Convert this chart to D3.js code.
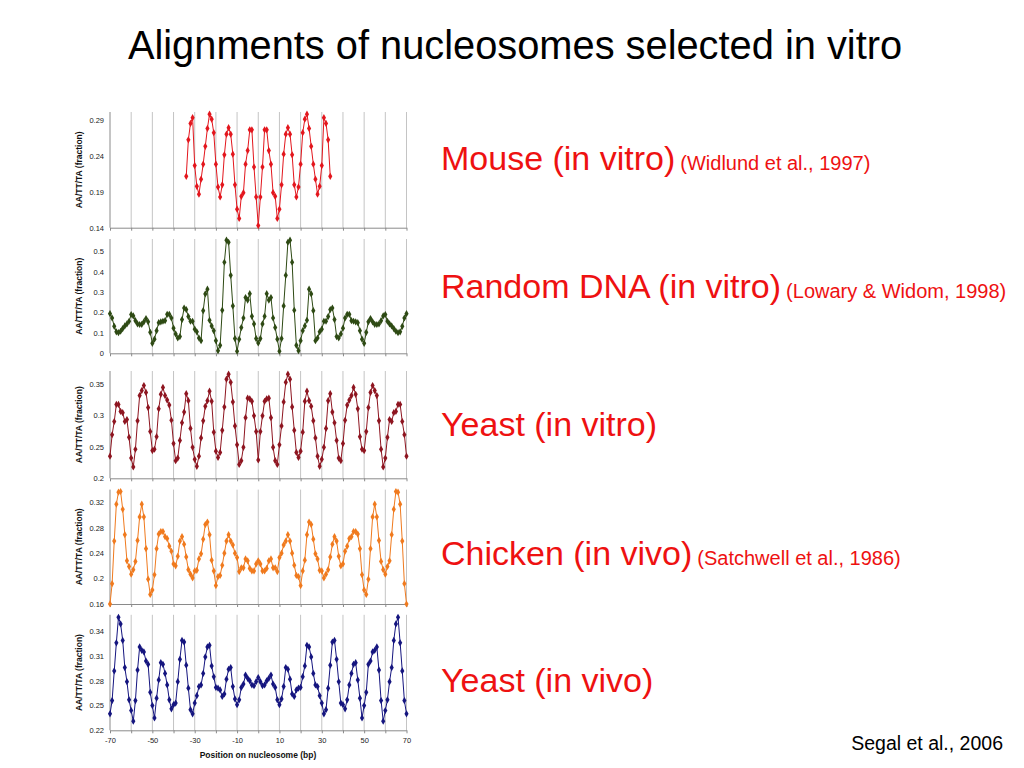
<!DOCTYPE html>
<html><head><meta charset="utf-8">
<script src="https://cdn.jsdelivr.net/npm/d3@7"></script>
<style>body{margin:0;background:#fff} svg{display:block;font-family:"Liberation Sans",Arial,sans-serif}</style>
</head><body><svg id="c" width="1024" height="768"></svg>
<script>
// ---------- DATA ----------
const titleText = "Alignments of nucleosomes selected in vitro";
const yLabel = "AA/TT/TA (fraction)";
const xLabel = "Position on nucleosome (bp)";
const xTickLabels = [-70, -50, -30, -10, 10, 30, 50, 70];
const xGrid = [-60, -50, -40, -30, -20, -10, 0, 10, 20, 30, 40, 50, 60, 70];
const xAxisTicks = [-70, -60, -50, -40, -30, -20, -10, 0, 10, 20, 30, 40, 50, 60, 70];

const mouseStart = -34;
const mouseValues = [0.212,0.263,0.286,0.294,0.227,0.198,0.187,0.208,0.229,0.254,0.279,0.299,0.292,0.273,0.229,0.197,0.183,0.200,0.242,0.271,0.280,0.271,0.243,0.200,0.166,0.153,0.184,0.189,0.229,0.248,0.277,0.277,0.225,0.183,0.143,
0.183,0.225,0.277,0.277,0.248,0.229,0.189,0.184,0.153,0.166,0.200,0.243,0.271,0.280,0.271,0.242,0.200,0.183,0.197,0.229,0.273,0.292,0.299,0.279,0.254,0.229,0.208,0.187,0.198,0.227,0.294,0.286,0.263,0.212];
const mouseTicks = [0.14, 0.19, 0.24, 0.29];

const randomStart = -70;
const randomValues = [0.194,0.173,0.132,0.105,0.101,0.108,0.121,0.134,0.144,0.157,
0.190,0.183,0.160,0.144,0.141,0.142,0.154,0.170,0.154,0.103,
0.049,0.069,0.111,0.150,0.154,0.157,0.160,0.191,0.191,0.173,
0.123,0.095,0.075,0.082,0.165,0.222,0.214,0.180,0.157,0.157,
0.118,0.105,0.075,0.062,0.209,0.291,0.314,0.162,0.134,0.111,
0.062,0.013,0.039,0.211,0.446,0.554,0.544,0.382,0.232,0.072,
0.010,0.069,0.126,0.173,0.273,0.261,0.292,0.181,0.144,0.072,
0.051,
0.072,0.144,0.181,0.292,0.261,0.273,0.173,0.126,0.069,0.010,
0.072,0.232,0.382,0.544,0.554,0.446,0.211,0.039,0.013,0.062,
0.111,0.134,0.162,0.314,0.291,0.209,0.062,0.075,0.105,0.118,
0.157,0.157,0.180,0.214,0.222,0.165,0.082,0.075,0.095,0.123,
0.173,0.191,0.191,0.160,0.157,0.154,0.150,0.111,0.069,0.049,
0.103,0.154,0.170,0.154,0.142,0.141,0.144,0.160,0.183,0.190,
0.157,0.144,0.134,0.121,0.108,0.101,0.105,0.132,0.173,0.194];
const randomTicks = [0, 0.1, 0.2, 0.3, 0.4, 0.5];

const yeastVitroStart = -70;
const yeastVitroValues = [0.235,0.269,0.290,0.317,0.317,0.306,0.304,0.290,0.293,0.265,
0.232,0.218,0.246,0.291,0.331,0.339,0.347,0.336,0.312,0.274,
0.244,0.246,0.266,0.310,0.333,0.344,0.331,0.324,0.316,0.292,
0.255,0.228,0.232,0.260,0.288,0.305,0.334,0.323,0.279,0.249,
0.230,0.219,0.235,0.264,0.291,0.314,0.323,0.338,0.322,0.273,
0.243,0.233,0.241,0.276,0.313,0.357,0.365,0.352,0.321,0.283,
0.253,0.222,0.228,0.249,0.296,0.327,0.326,0.322,0.299,0.274,
0.229,
0.274,0.299,0.322,0.326,0.327,0.296,0.249,0.228,0.222,0.253,
0.283,0.321,0.352,0.365,0.357,0.313,0.276,0.241,0.233,0.243,
0.273,0.322,0.338,0.323,0.314,0.291,0.264,0.235,0.219,0.230,
0.249,0.279,0.323,0.334,0.305,0.288,0.260,0.232,0.228,0.255,
0.292,0.316,0.324,0.331,0.344,0.333,0.310,0.266,0.246,0.244,
0.274,0.312,0.336,0.347,0.339,0.331,0.291,0.246,0.218,0.232,
0.265,0.293,0.290,0.304,0.306,0.317,0.317,0.290,0.269,0.235];
const yeastVitroTicks = [0.2, 0.25, 0.3, 0.35];

const chickenStart = -70;
const chickenValues = [0.160,0.192,0.259,0.317,0.336,0.337,0.309,0.269,0.228,0.219,
0.207,0.214,0.227,0.260,0.297,0.317,0.297,0.247,0.199,0.175,
0.182,0.206,0.247,0.270,0.274,0.274,0.266,0.263,0.251,0.243,
0.223,0.220,0.235,0.259,0.266,0.254,0.234,0.214,0.207,0.201,
0.212,0.213,0.231,0.239,0.262,0.285,0.289,0.269,0.229,0.212,
0.189,0.203,0.205,0.221,0.240,0.259,0.269,0.259,0.253,0.240,
0.233,0.211,0.217,0.217,0.231,0.228,0.216,0.212,0.212,0.223,
0.228,
0.223,0.212,0.212,0.216,0.228,0.231,0.217,0.217,0.211,0.233,
0.240,0.253,0.259,0.269,0.259,0.240,0.221,0.205,0.203,0.189,
0.212,0.229,0.269,0.289,0.285,0.262,0.239,0.231,0.213,0.212,
0.201,0.207,0.214,0.234,0.254,0.266,0.259,0.235,0.220,0.223,
0.243,0.251,0.263,0.266,0.274,0.274,0.270,0.247,0.206,0.182,
0.175,0.199,0.247,0.297,0.317,0.297,0.260,0.227,0.214,0.207,
0.219,0.228,0.269,0.309,0.337,0.336,0.317,0.259,0.192,0.160];
const chickenTicks = [0.16, 0.2, 0.24, 0.28, 0.32];

const yeastVivoStart = -70;
const yeastVivoValues = [0.240,0.256,0.292,0.326,0.357,0.349,0.329,0.296,0.279,0.257,
0.244,0.231,0.256,0.293,0.321,0.317,0.315,0.304,0.300,0.266,
0.250,0.235,0.259,0.281,0.302,0.300,0.289,0.275,0.257,0.246,
0.251,0.253,0.279,0.306,0.329,0.327,0.299,0.271,0.245,0.240,
0.253,0.262,0.273,0.275,0.289,0.309,0.321,0.323,0.298,0.285,
0.272,0.271,0.269,0.261,0.264,0.282,0.294,0.296,0.273,0.258,
0.251,0.257,0.272,0.276,0.287,0.283,0.280,0.275,0.274,0.279,
0.284,
0.279,0.274,0.275,0.280,0.283,0.287,0.276,0.272,0.257,0.251,
0.258,0.273,0.296,0.294,0.282,0.264,0.261,0.269,0.271,0.272,
0.285,0.298,0.323,0.321,0.309,0.289,0.275,0.273,0.262,0.253,
0.240,0.245,0.271,0.299,0.327,0.329,0.306,0.279,0.253,0.251,
0.246,0.257,0.275,0.289,0.300,0.302,0.281,0.259,0.235,0.250,
0.266,0.300,0.304,0.315,0.317,0.321,0.293,0.256,0.231,0.244,
0.257,0.279,0.296,0.329,0.349,0.357,0.326,0.292,0.256,0.240];
const yeastVivoTicks = [0.22, 0.25, 0.28, 0.31, 0.34];

const sideLabels = ["Mouse (in vitro)", "Random DNA (in vitro)", "Yeast (in vitro)", "Chicken (in vivo)", "Yeast (in vivo)"];
const sideRefs = ["(Widlund et al., 1997)", "(Lowary & Widom, 1998)", "", "(Satchwell et al., 1986)", ""];
const citation = "Segal et al., 2006";

// ---------- LAYOUT ----------
const svg = d3.select("#c");
const x = d3.scaleLinear().domain([-70, 70]).range([110, 406.5]);

const panels = [
  {values: mouseValues, start: mouseStart, ticks: mouseTicks, color: "#e3161d", ymin: 0.14, ymax: 0.302, top: 112, bottom: 227.7},
  {values: randomValues, start: randomStart, ticks: randomTicks, color: "#2e4a14", ymin: 0, ymax: 0.56, top: 239, bottom: 353.3},
  {values: yeastVitroValues, start: yeastVitroStart, ticks: yeastVitroTicks, color: "#8e1520", ymin: 0.2, ymax: 0.37, top: 371, bottom: 478.3},
  {values: chickenValues, start: chickenStart, ticks: chickenTicks, color: "#f07a1e", ymin: 0.16, ymax: 0.34, top: 489.6, bottom: 604},
  {values: yeastVivoValues, start: yeastVivoStart, ticks: yeastVivoTicks, color: "#15157f", ymin: 0.22, ymax: 0.36, top: 614.8, bottom: 730.3}
];

// Title
svg.append("text").attr("x", 515).attr("y", 59).attr("text-anchor", "middle")
  .attr("font-size", 39.8).attr("fill", "#000").text(titleText);

panels.forEach((p, i) => {
  const y = d3.scaleLinear().domain([p.ymin, p.ymax]).range([p.bottom, p.top]);
  const g = svg.append("g");
  g.selectAll("line.grid").data(xGrid).join("line").attr("class", "grid")
    .attr("x1", d => x(d)).attr("x2", d => x(d))
    .attr("y1", p.top).attr("y2", p.bottom)
    .attr("stroke", "#c4c4c4").attr("stroke-width", 1);
  const xa = g.append("g").attr("transform", `translate(0,${p.bottom})`)
    .call(d3.axisBottom(x).tickValues(xAxisTicks).tickSize(3).tickSizeOuter(0)
      .tickFormat(i === panels.length - 1 ? (d => xTickLabels.includes(d) ? d : "") : ""));
  xa.select(".domain").attr("stroke", "#8a8a8a");
  xa.selectAll(".tick line").attr("stroke", "#8a8a8a");
  xa.selectAll(".tick text").attr("font-size", 7.5).attr("fill", "#222").attr("dy", "0.9em")
    .attr("font-family", '"Liberation Sans",Arial,sans-serif');
  const ya = g.append("g").attr("transform", `translate(${x(-70)},0)`)
    .call(d3.axisLeft(y).tickValues(p.ticks).tickSize(0).tickPadding(6).tickFormat(d3.format("")));
  ya.select(".domain").attr("stroke", "#8a8a8a").attr("d", `M0,${p.top}V${p.bottom}`);
  ya.selectAll(".tick text").attr("font-size", 7.5).attr("fill", "#222")
    .attr("font-family", '"Liberation Sans",Arial,sans-serif');
  g.append("text").attr("transform", `translate(82,${(p.top + p.bottom) / 2}) rotate(-90)`)
    .attr("text-anchor", "middle").attr("font-size", 8.5).attr("font-weight", "bold")
    .attr("fill", "#111").text(yLabel);
  const pts = p.values.map((v, k) => ({pos: p.start + k, v}));
  g.append("path").datum(pts)
    .attr("d", d3.line().x(d => x(d.pos)).y(d => y(d.v)))
    .attr("fill", "none").attr("stroke", p.color).attr("stroke-width", 1);
  g.selectAll("path.m").data(pts).join("path").attr("class", "m")
    .attr("transform", d => `translate(${x(d.pos)},${y(d.v)})`)
    .attr("d", d3.symbol(d3.symbolDiamond, 15))
    .attr("fill", p.color);
});

svg.append("text").attr("x", 258).attr("y", 758).attr("text-anchor", "middle")
  .attr("font-size", 8.5).attr("font-weight", "bold").attr("fill", "#111").text(xLabel);

const sideY = [170, 298, 436, 565, 692];
sideLabels.forEach((lab, i) => {
  const t = svg.append("text").attr("x", 441).attr("y", sideY[i]).attr("fill", "#ee1111");
  t.append("tspan").attr("font-size", 34).text(lab);
  if (sideRefs[i]) t.append("tspan").attr("font-size", 20).attr("dx", 5).text(sideRefs[i]);
});

svg.append("text").attr("x", 1003).attr("y", 750).attr("text-anchor", "end")
  .attr("font-size", 19.5).attr("fill", "#000").text(citation);
</script>
</body></html>
